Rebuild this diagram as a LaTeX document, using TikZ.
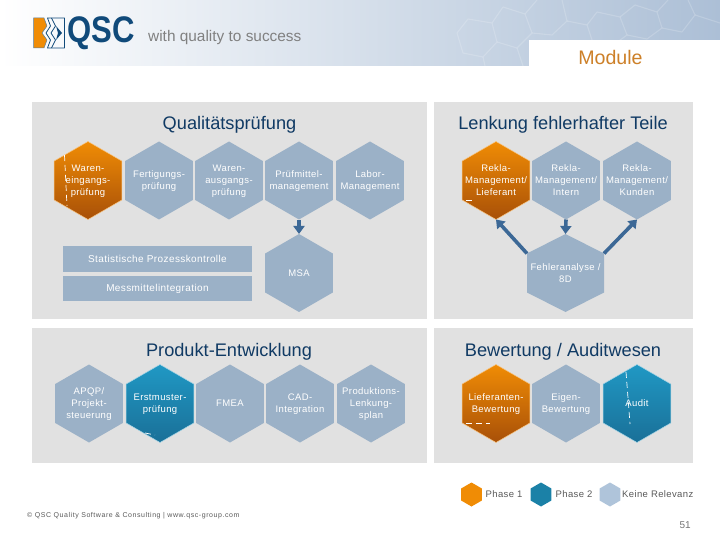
\documentclass[tikz,border=0pt]{standalone}
\usepackage{fontspec}
\usepackage{graphicx}
\usetikzlibrary{
  arrows.meta,
  shapes.geometric
}
\setmainfont{Liberation Sans}
\newfontfamily\spacedfont[LetterSpace=4]{Liberation Sans}
\newfontfamily\footfont[LetterSpace=8]{Liberation Sans}
\definecolor{panelgrey}{RGB}{225,225,225}
\definecolor{hexgrey}{RGB}{155,177,199}
\definecolor{hexlight}{RGB}{175,196,218}
\definecolor{orangetop}{RGB}{240,140,5}
\definecolor{orangelow}{RGB}{168,80,8}
\definecolor{bluetop}{RGB}{32,152,196}
\definecolor{bluelow}{RGB}{26,112,152}
\definecolor{navy}{RGB}{16,58,100}
\definecolor{arrowblue}{RGB}{60,104,150}
\definecolor{modulegold}{RGB}{205,128,40}
\definecolor{headmid}{RGB}{228,229,237}
\definecolor{headblue}{RGB}{172,191,214}
\definecolor{logoblue}{RGB}{16,74,122}
\newcommand{\hexlines}[1]{\makebox[0pt]{\smash{\raisebox{-3.2pt}{\begin{tabular}{@{}c@{}}#1\end{tabular}}}}}
\tikzset{
  panel/.style={fill=panelgrey, draw=none},
  hexbase/.style={regular polygon, regular polygon sides=6, regular polygon rotate=30,
    minimum size=78pt, inner sep=0pt, outer sep=0pt, text=white,
    font=\spacedfont\fontsize{9.5}{12}\selectfont},
  hexgray/.style={hexbase, fill=hexgrey},
  hexorange/.style={hexbase, top color=orangetop, bottom color=orangelow, draw=orangetop!50!white, line width=0.5pt},
  hexblue/.style={hexbase, top color=bluetop, bottom color=bluelow, draw=bluetop!40!white, line width=0.5pt},
  legendhex/.style={hexbase, minimum size=24pt},
  bar/.style={fill=hexgrey, text=white, minimum width=189pt, inner sep=0pt,
    font=\spacedfont\fontsize{10}{12}\selectfont},
  heading/.style={text=navy, font=\fontsize{18.2}{22}\selectfont},
  legendtext/.style={anchor=west, inner sep=0pt, text=black!65, font=\spacedfont\fontsize{9.5}{12}\selectfont},
  flow/.style={draw=arrowblue, line width=3.6pt, -{Triangle[length=8pt,width=11pt]}},
  glitch/.style={draw=white, line width=0.7pt, dash pattern=on 6pt off 4pt},
  headline/.style={draw=white, opacity=0.18, line width=1.1pt, line join=round}
}

\begin{document}
\begin{tikzpicture}[x=1pt, y=-1pt]
  \useasboundingbox (0,0) rectangle (720,540);

  % header band
  \shade[left color=white, middle color=headmid, right color=headblue] (0,0) rectangle (720,66);
  \draw[headline] (457,33) -- (468,19) -- (492,23) -- (497,42) -- (483,57) -- (463,53) -- cycle;
  \draw[headline] (492,23) -- (503,7) -- (525,14) -- (532,33) -- (517,48) -- (497,42);
  \draw[headline] (525,14) -- (537,0);
  \draw[headline] (562,0) -- (567,21) -- (552,35) -- (532,33);
  \draw[headline] (567,21) -- (587,25) -- (592,40);
  \draw[headline] (587,25) -- (597,12) -- (620,17) -- (627,35) -- (612,46);
  \draw[headline] (620,17) -- (635,5) -- (657,12) -- (662,28) -- (647,39) -- (627,35);
  \draw[headline] (657,12) -- (668,0);
  \draw[headline] (688,0) -- (695,15) -- (682,32) -- (662,28);
  \draw[headline] (695,15) -- (720,23);
  \draw[headline] (483,57) -- (485,66);
  \draw[headline] (517,48) -- (523,66);
  \fill[white] (529,40) rectangle (720,66);

  % logo
  \draw[fill=orangetop, draw=logoblue!70, line width=0.5pt, line join=round] (33.5,18) -- (44,18) -- (47,26) -- (42,33) -- (47,40) -- (44,48) -- (33.5,48) -- cycle;
  \draw[logoblue, line width=0.8pt, line join=round] (47.5,18) -- (64.5,18) -- (64.5,48) -- (47.5,48) -- (50.5,40) -- (46,33) -- (50.5,26) -- cycle;
  \draw[logoblue, line width=0.8pt, line join=round] (51.5,18) -- (55.5,26) -- (51,33) -- (55.5,40) -- (51.5,48);
  \fill[logoblue] (56,26) -- (62,33) -- (56,40) -- (58,33) -- cycle;
  \node[anchor=west, inner sep=0pt, text=logoblue, font=\bfseries\fontsize{37}{37}\selectfont] (logotext) at (67.5,33) {\scalebox{0.84}[1]{QSC}};
  \node[anchor=west, inner sep=0pt, text=black!50, font=\fontsize{15.4}{18}\selectfont] (slogan) at (148,38) {with quality to success};
  \node[text=modulegold, inner sep=0pt, font=\fontsize{19.6}{22}\selectfont] (module) at (610.5,57) {Module};

  % panels
  \fill[panel] (32,102) rectangle (427,319);
  \fill[panel] (434,102) rectangle (693,319);
  \fill[panel] (32,328) rectangle (427,463);
  \fill[panel] (434,328) rectangle (693,463);

  \node[heading] (qualitaet) at (229.5,124.5) {Qualitätsprüfung};
  \node[heading] (lenkung) at (563,124.5) {Lenkung fehlerhafter Teile};
  \node[heading] (produkt) at (229,351.5) {Produkt-Entwicklung};
  \node[heading] (bewertung) at (563,351.5) {Bewertung / Auditwesen};

  % Qualitaetspruefung
  \node[hexorange] (wareneingang) at (88,180.5) {\hexlines{Waren-\\eingangs-\\prüfung}};
  \node[hexgray] (fertigung) at (159,180.5) {\hexlines{Fertigungs-\\prüfung}};
  \node[hexgray] (warenausgang) at (229,180.5) {\hexlines{Waren-\\ausgangs-\\prüfung}};
  \node[hexgray] (pruefmittel) at (299,180.5) {\hexlines{Prüfmittel-\\management}};
  \node[hexgray] (labor) at (370,180.5) {\hexlines{Labor-\\Management}};
  \node[hexgray] (msa) at (299,273) {\hexlines{MSA}};
  \node[bar, minimum height=26pt] (spc) at (157.5,259) {Statistische Prozesskontrolle};
  \node[bar, minimum height=25pt] (messmittel) at (157.5,288.5) {Messmittelintegration};
  \draw[flow] (pruefmittel.south) -- (msa.north);

  % Lenkung fehlerhafter Teile
  \node[hexorange] (reklalief) at (496,180.5) {\hexlines{Rekla-\\Management/\\Lieferant}};
  \node[hexgray] (reklaintern) at (566,180.5) {\hexlines{Rekla-\\Management/\\Intern}};
  \node[hexgray] (reklakunde) at (637,180.5) {\hexlines{Rekla-\\Management/\\Kunden}};
  \coordinate (fehlerpos) at (565.5,273);
  \node[hexgray, transform shape, xscale=1.14] (fehler) at (fehlerpos) {};
  \node[text=white, inner sep=0pt, align=center, font=\spacedfont\fontsize{9.5}{12}\selectfont] (fehlertext) at (fehlerpos) {Fehleranalyse /\\8D};
  \draw[flow] (fehler.150) -- (reklalief.south);
  \draw[flow] (reklaintern.south) -- (fehler.north);
  \draw[flow] (fehler.30) -- (reklakunde.south);

  % Produkt-Entwicklung
  \node[hexgray] (apqp) at (89,403.5) {\hexlines{APQP/\\Projekt-\\steuerung}};
  \node[hexblue] (erstmuster) at (160,403.5) {\hexlines{Erstmuster-\\prüfung}};
  \node[hexgray] (fmea) at (230,403.5) {\hexlines{FMEA}};
  \node[hexgray] (cad) at (300,403.5) {\hexlines{CAD-\\Integration}};
  \node[hexgray] (lenkungsplan) at (371,403.5) {\hexlines{Produktions-\\Lenkung-\\splan}};

  % Bewertung / Auditwesen
  \node[hexorange] (lieferant) at (496,403.5) {\hexlines{Lieferanten-\\Bewertung}};
  \node[hexgray] (eigen) at (566,403.5) {\hexlines{Eigen-\\Bewertung}};
  \node[hexblue] (audit) at (637,403.5) {\hexlines{Audit}};

  % stray marks
  \draw[glitch] (64.5,155) -- (67,206);
  \draw[glitch] (626,372) -- (630,424);
  \draw[glitch] (466,423) -- (490,423);
  \draw[glitch] (145,433) -- (155,435);
  \draw[glitch] (466,200) -- (475,200);

  % legend
  \node[legendhex, fill=orangetop] (legendone) at (471.5,494.5) {};
  \node[legendtext] (phaseone) at (485.5,494) {Phase 1};
  \node[legendhex, fill=bluetop!85!black] (legendtwo) at (541,494.5) {};
  \node[legendtext] (phasetwo) at (555.5,494) {Phase 2};
  \node[legendhex, fill=hexlight] (legendnone) at (610,494.5) {};
  \node[legendtext] (keine) at (622,494) {Keine Relevanz};

  % footer
  \node[anchor=west, inner sep=0pt, text=black!65, font=\footfont\fontsize{7}{9}\selectfont] (footer) at (27,516) {© QSC Quality Software \& Consulting | www.qsc-group.com};
  \node[anchor=east, inner sep=0pt, text=black!55, font=\fontsize{10}{12}\selectfont] (pagenum) at (691,525) {51};
\end{tikzpicture}
\end{document}
